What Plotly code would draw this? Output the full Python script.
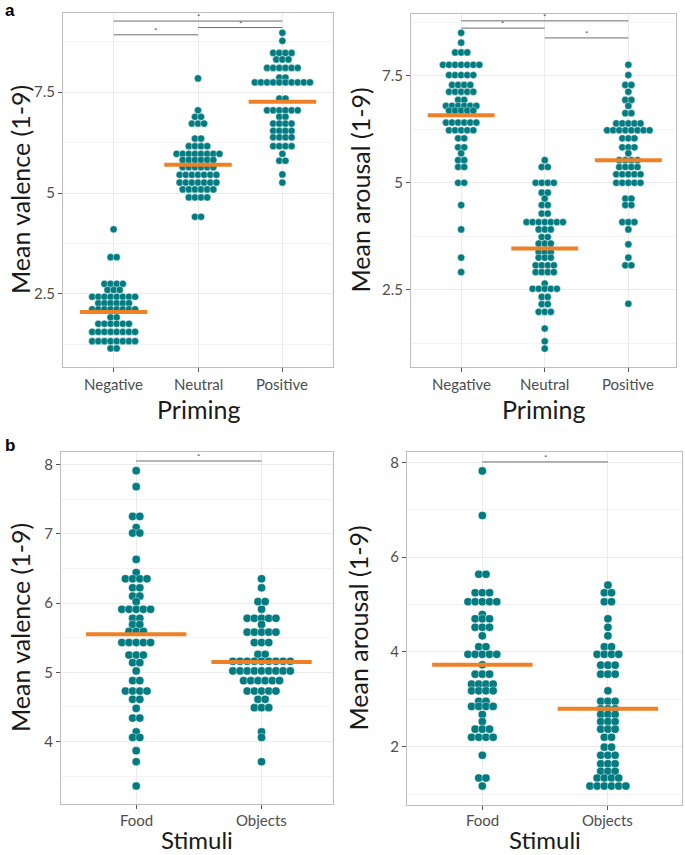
import plotly.graph_objects as go

# ---------------- DATA ----------------
priming = ["Negative", "Neutral", "Positive"]
stimuli = ["Food", "Objects"]

# Panel a - valence (levels and number of dots per level)
neg_val_levels = [4.10, 3.41, 2.75, 2.60, 2.43, 2.27, 2.12, 1.92, 1.76, 1.56, 1.33, 1.15]
neg_val_counts = [1, 2, 4, 3, 8, 6, 8, 2, 6, 8, 8, 2]
neu_val_levels = [7.84, 7.05, 6.89, 6.72, 6.35, 6.16, 5.97, 5.82, 5.64, 5.45, 5.26, 5.09, 4.89, 4.41]
neu_val_counts = [1, 1, 2, 3, 2, 4, 8, 6, 6, 7, 7, 6, 4, 2]
pos_val_levels = [8.97, 8.77, 8.47, 8.31, 8.10, 7.86, 7.74, 7.34, 7.05, 6.89, 6.72, 6.54, 6.38, 6.16, 5.97, 5.80, 5.46, 5.26]
pos_val_counts = [1, 1, 4, 3, 6, 2, 10, 2, 6, 2, 4, 4, 4, 4, 1, 2, 1, 1]
priming_val_means = [2.05, 5.70, 7.26]

# Panel a - arousal
neg_aro_levels = [8.51, 8.28, 8.05, 7.76, 7.52, 7.29, 7.13, 6.94, 6.80, 6.69, 6.41, 6.23, 6.04, 5.83, 5.69, 5.53, 5.37, 5.00, 4.48, 3.91, 3.25, 2.91]
neg_aro_counts = [1, 1, 3, 7, 5, 4, 5, 2, 6, 5, 6, 5, 2, 2, 1, 2, 2, 2, 1, 1, 1, 1]
neu_aro_levels = [5.53, 5.37, 5.00, 4.77, 4.63, 4.48, 4.28, 4.08, 3.91, 3.73, 3.58, 3.38, 3.25, 3.07, 2.91, 2.64, 2.52, 2.33, 2.16, 1.98, 1.59, 1.29, 1.12]
neu_aro_counts = [1, 2, 4, 2, 1, 2, 2, 7, 3, 2, 3, 3, 3, 4, 4, 1, 5, 2, 2, 3, 1, 1, 1]
pos_aro_levels = [7.76, 7.52, 7.29, 7.13, 6.94, 6.80, 6.63, 6.39, 6.23, 6.04, 5.83, 5.69, 5.53, 5.37, 5.20, 5.00, 4.63, 4.48, 4.08, 3.91, 3.56, 3.25, 3.07, 2.17]
pos_aro_counts = [1, 1, 2, 1, 2, 1, 2, 5, 8, 3, 3, 1, 4, 4, 5, 5, 2, 2, 3, 1, 1, 1, 2, 1]
priming_aro_means = [6.58, 3.46, 5.53]

# Panel b - valence
food_val_levels = [7.91, 7.68, 7.25, 7.09, 7.01, 6.63, 6.44, 6.35, 6.22, 6.10, 6.02, 5.91, 5.78, 5.69, 5.59, 5.43, 5.25, 5.14, 5.02, 4.88, 4.73, 4.61, 4.48, 4.34, 4.14, 4.06, 3.87, 3.71, 3.36]
food_val_counts = [1, 1, 2, 1, 2, 1, 1, 4, 2, 2, 1, 5, 2, 2, 3, 5, 3, 2, 1, 2, 4, 2, 1, 2, 1, 2, 1, 1, 1]
obj_val_levels = [6.35, 6.22, 6.02, 5.91, 5.78, 5.69, 5.58, 5.43, 5.26, 5.16, 5.02, 4.88, 4.73, 4.61, 4.49, 4.14, 4.06, 3.71]
obj_val_counts = [1, 1, 2, 1, 5, 1, 5, 3, 2, 9, 9, 6, 5, 2, 3, 1, 1, 1]
stimuli_val_means = [5.55, 5.15]

# Panel b - arousal
food_aro_levels = [7.82, 6.88, 5.64, 5.25, 5.06, 4.79, 4.70, 4.52, 4.34, 4.11, 3.95, 3.73, 3.53, 3.32, 3.18, 2.96, 2.85, 2.68, 2.53, 2.37, 2.20, 1.82, 1.34, 1.17]
food_aro_counts = [1, 1, 2, 3, 5, 1, 3, 3, 1, 2, 5, 1, 3, 4, 4, 2, 4, 1, 1, 3, 4, 1, 2, 1]
obj_aro_levels = [5.41, 5.25, 5.06, 4.70, 4.52, 4.34, 4.11, 3.95, 3.72, 3.53, 3.18, 2.96, 2.80, 2.68, 2.53, 2.37, 2.20, 1.99, 1.82, 1.64, 1.48, 1.34, 1.17]
obj_aro_counts = [1, 2, 2, 1, 1, 1, 2, 4, 3, 3, 1, 3, 3, 3, 3, 3, 2, 2, 3, 3, 3, 4, 6]
stimuli_aro_means = [3.73, 2.80]

# significance brackets: (from category, to category, height)
sig_a_val = [(1, 3, 9.26), (2, 3, 9.10), (1, 2, 8.92)]
sig_a_aro = [(1, 3, 8.79), (1, 2, 8.62), (2, 3, 8.39)]
sig_b_val = [(1, 2, 8.05)]
sig_b_aro = [(1, 2, 8.01)]

# ---------------- STYLE / LAYOUT ----------------
W, H = 685, 855
TEAL = "#027C80"
ORANGE = "#EF8026"
FONT = "Lato"
TICKC = "#4D4D4D"

def dom_x(a, b):
    return [a / W, b / W]

def dom_y(top, bottom):
    return [1 - bottom / H, 1 - top / H]

panels = [
    dict(ax="", xd=dom_x(63, 333), yd=dom_y(13, 367), xr=[0.4, 3.6], yr=[0.69, 9.46],
         cats=priming, groups=[(neg_val_levels, neg_val_counts), (neu_val_levels, neu_val_counts), (pos_val_levels, pos_val_counts)],
         means=priming_val_means, dtick=2.5, minor=1.25, dx=6.1 / 84, msize=7.2, sig=sig_a_val,
         ytitle="Mean valence (1-9)", xtitle="Priming", ytx=20, tly=384, xty=409, xts=25),
    dict(ax="2", xd=dom_x(411, 676), yd=dom_y(14, 367), xr=[0.4, 3.57], yr=[0.69, 8.95],
         cats=priming, groups=[(neg_aro_levels, neg_aro_counts), (neu_aro_levels, neu_aro_counts), (pos_aro_levels, pos_aro_counts)],
         means=priming_aro_means, dtick=2.5, minor=1.25, dx=6.1 / 84, msize=7.2, sig=sig_a_aro,
         ytitle="Mean arousal (1-9)", xtitle="Priming", ytx=359, tly=384, xty=409, xts=25),
    dict(ax="3", xd=dom_x(61, 333), yd=dom_y(452, 804), xr=[0.4, 2.57], yr=[3.10, 8.18],
         cats=stimuli, groups=[(food_val_levels, food_val_counts), (obj_val_levels, obj_val_counts)],
         means=stimuli_val_means, dtick=1, minor=0.5, dx=7.2 / 125.7, msize=8.2, sig=sig_b_val,
         ytitle="Mean valence (1-9)", xtitle="Stimuli", ytx=20, tly=820, xty=839, xts=24),
    dict(ax="4", xd=dom_x(407, 682), yd=dom_y(452, 805), xr=[0.4, 2.59], yr=[0.77, 8.22],
         cats=stimuli, groups=[(food_aro_levels, food_aro_counts), (obj_aro_levels, obj_aro_counts)],
         means=stimuli_aro_means, dtick=2, minor=1, dx=7.2 / 125.7, msize=8.2, sig=sig_b_aro,
         ytitle="Mean arousal (1-9)", xtitle="Stimuli", ytx=357, tly=820, xty=839, xts=24),
]

fig = go.Figure()
layout = dict(width=W, height=H, margin=dict(l=0, r=0, t=0, b=0),
              paper_bgcolor="white", plot_bgcolor="white", showlegend=False,
              font=dict(family=FONT, color=TICKC))
annotations = []

for p in panels:
    xa, ya = "x" + p["ax"], "y" + p["ax"]
    xkey, ykey = "xaxis" + p["ax"], "yaxis" + p["ax"]
    # dots: dotplot-style centered stacks
    for ci, (levels, counts) in enumerate(p["groups"]):
        center = ci + 1
        xs, ys = [], []
        for v, n in zip(levels, counts):
            for i in range(n):
                xs.append(center + (i - (n - 1) / 2) * p["dx"])
                ys.append(v)
        fig.add_trace(go.Scatter(x=xs, y=ys, mode="markers", xaxis=xa, yaxis=ya,
                                 marker=dict(color=TEAL, size=p["msize"],
                                             line=dict(color="rgba(255,255,255,0.7)", width=0.6)),
                                 hoverinfo="skip"))
    # mean bars
    for ci, m in enumerate(p["means"]):
        c = ci + 1
        fig.add_trace(go.Scatter(x=[c - 0.4, c + 0.4], y=[m, m], mode="lines", xaxis=xa, yaxis=ya,
                                 line=dict(color=ORANGE, width=4), hoverinfo="skip"))
    # significance brackets
    for (c0, c1, h) in p["sig"]:
        fig.add_trace(go.Scatter(x=[c0, c1], y=[h, h], mode="lines", xaxis=xa, yaxis=ya,
                                 line=dict(color="#6E6E6E", width=1), hoverinfo="skip"))
        annotations.append(dict(x=(c0 + c1) / 2, y=h, xref=xa, yref=ya, text="*", showarrow=False,
                                yanchor="bottom", yshift=-3, font=dict(size=8, color="#555555", family=FONT)))
    layout[xkey] = dict(domain=p["xd"], range=p["xr"], anchor=ya,
                        tickmode="array", tickvals=list(range(1, len(p["cats"]) + 1)),
                        showticklabels=False,
                        showgrid=True, gridcolor="#EBEBEB", gridwidth=1, zeroline=False,
                        showline=True, linecolor="#BDBDBD", linewidth=1, mirror=True,
                        ticks="outside", ticklen=4, tickcolor="#555555")
    layout[ykey] = dict(domain=p["yd"], range=p["yr"], anchor=xa,
                        tickmode="linear", tick0=0, dtick=p["dtick"],
                        showgrid=True, gridcolor="#EBEBEB", gridwidth=1, zeroline=False,
                        minor=dict(showgrid=True, gridcolor="#F4F4F4", dtick=p["minor"], tick0=0),
                        showline=True, linecolor="#BDBDBD", linewidth=1, mirror=True,
                        ticks="outside", ticklen=4, tickcolor="#555555",
                        tickfont=dict(size=15, color=TICKC, family=FONT))
    # category tick labels
    for ci, cat in enumerate(p["cats"]):
        annotations.append(dict(x=ci + 1, xref=xa, y=1 - p["tly"] / H, yref="paper", text=cat,
                                showarrow=False, xanchor="center", yanchor="middle",
                                font=dict(size=15, color=TICKC, family=FONT)))
    # axis titles
    x0, x1 = p["xd"][0] * W, p["xd"][1] * W
    y_top = (1 - p["yd"][1]) * H
    y_bot = (1 - p["yd"][0]) * H
    cx = (x0 + x1) / 2
    annotations.append(dict(x=p["ytx"] / W, y=1 - ((y_top + y_bot) / 2) / H, xref="paper", yref="paper",
                            text=p["ytitle"], textangle=-90, showarrow=False,
                            xanchor="center", yanchor="middle",
                            font=dict(size=25, color="#1A1A1A", family=FONT)))
    annotations.append(dict(x=cx / W, y=1 - p["xty"] / H, xref="paper", yref="paper",
                            text=p["xtitle"], showarrow=False, xanchor="center", yanchor="middle",
                            borderpad=0, font=dict(size=p["xts"], color="#1A1A1A", family=FONT)))

annotations.append(dict(x=3 / W, y=1 - 10 / H, xref="paper", yref="paper", text="<b>a</b>", showarrow=False,
                        xanchor="left", yanchor="middle", font=dict(size=17, color="black", family="Liberation Sans")))
annotations.append(dict(x=3 / W, y=1 - 445 / H, xref="paper", yref="paper", text="<b>b</b>", showarrow=False,
                        xanchor="left", yanchor="middle", font=dict(size=17, color="black", family="Liberation Sans")))

layout["annotations"] = annotations
fig.update_layout(**layout)
fig.write_html("out.html", config={"displayModeBar": False},
               post_script="document.body.style.margin='0px';document.body.style.overflow='hidden';")
